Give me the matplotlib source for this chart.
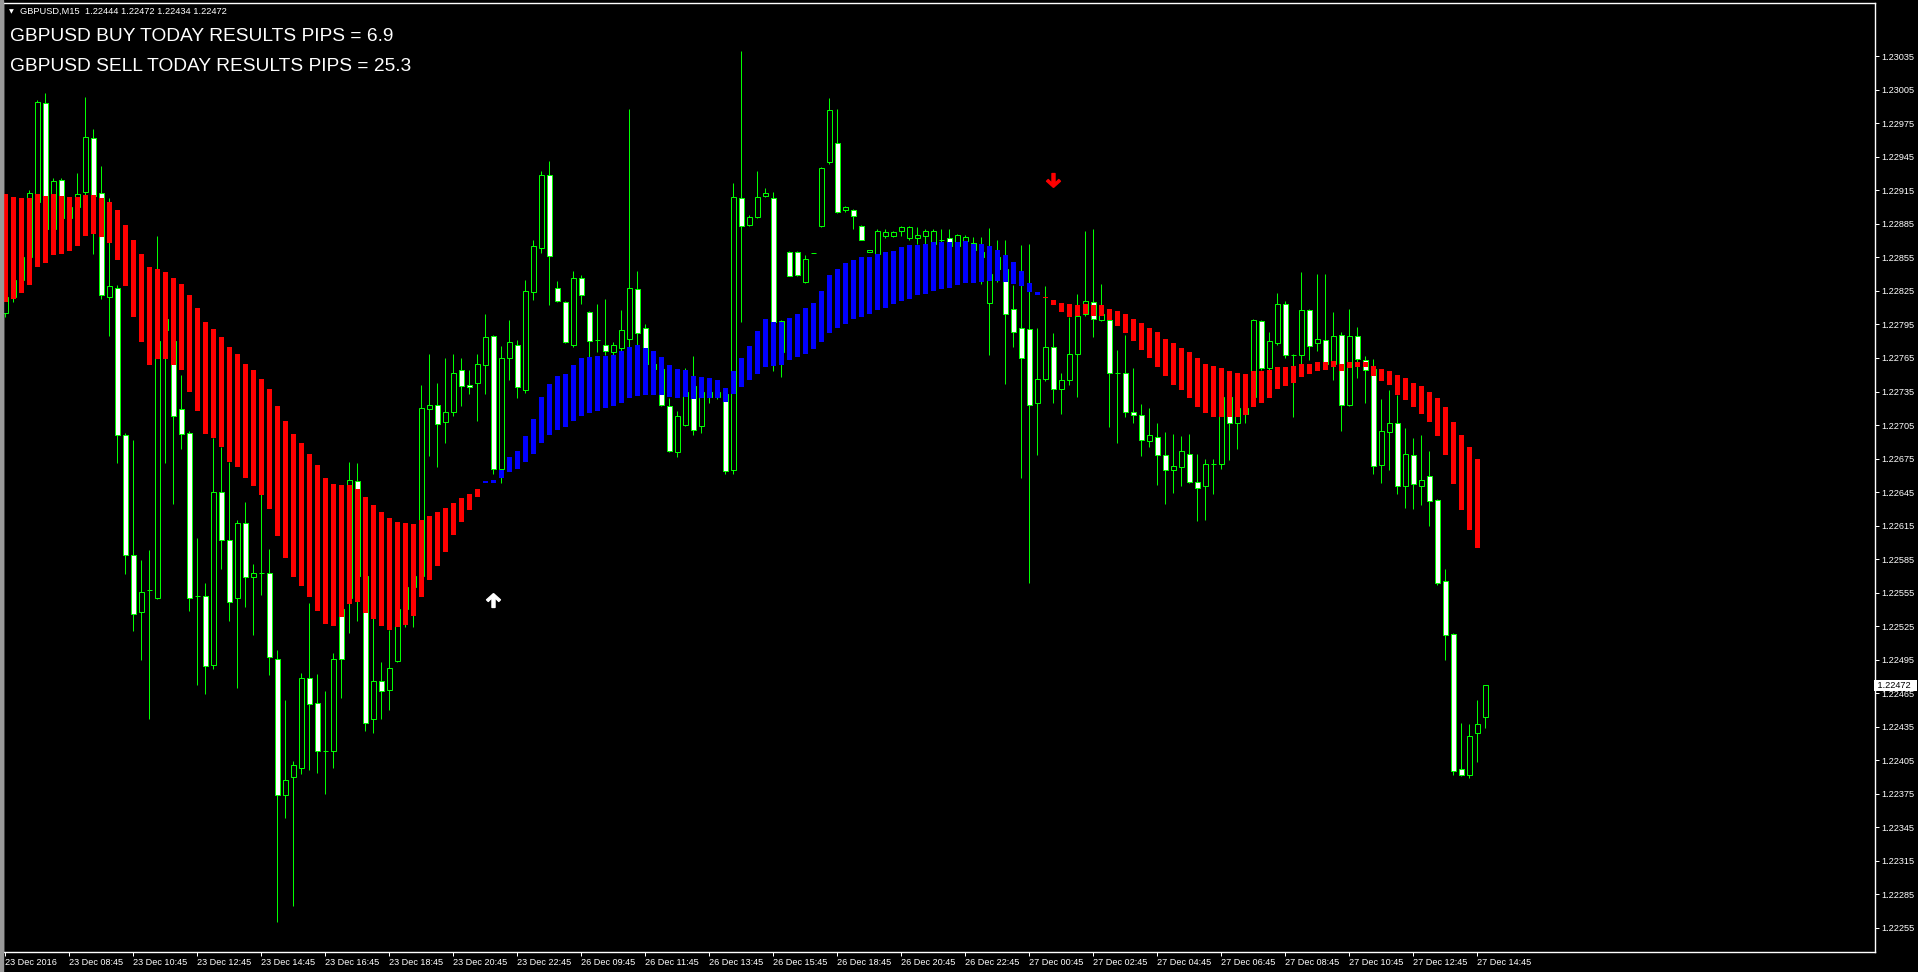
import matplotlib
matplotlib.use("Agg")
import matplotlib.pyplot as plt
import matplotlib.transforms as mtransforms
from matplotlib.path import Path
from matplotlib.patches import Rectangle
import numpy as np

# GBPUSD M15 bars, 23 Dec 2016 06:45 -> 27 Dec 2016 15:00
opens = [1.22805, 1.22820, 1.22835, 1.22855, 1.22905, 1.22993, 1.22880, 1.22924, 1.22890, 1.22900,
         1.22914, 1.22962, 1.22913, 1.22820, 1.22828, 1.22696, 1.22589, 1.22538, 1.22557, 1.22550,
         1.22800, 1.22780, 1.22719, 1.22698, 1.22552, 1.22552, 1.22490, 1.22645, 1.22602, 1.22550,
         1.22617, 1.22569, 1.22573, 1.22573, 1.22496, 1.22374, 1.22390, 1.22398, 1.22479, 1.22456,
         1.22413, 1.22413, 1.22540, 1.22550, 1.22655, 1.22570, 1.22442, 1.22476, 1.22468, 1.22494,
         1.22540, 1.22560, 1.22570, 1.22719, 1.22723, 1.22708, 1.22717, 1.22754, 1.22741, 1.22743,
         1.22759, 1.22785, 1.22666, 1.22765, 1.22777, 1.22736, 1.22824, 1.22863, 1.22929, 1.22828,
         1.22815, 1.22777, 1.22837, 1.22806, 1.22781, 1.22777, 1.22770, 1.22774, 1.22782, 1.22827,
         1.22792, 1.22760, 1.22755, 1.22722, 1.22681, 1.22705, 1.22740, 1.22704, 1.22735, 1.22730,
         1.22733, 1.22665, 1.22908, 1.22884, 1.22891, 1.22910, 1.22908, 1.22770, 1.22860, 1.22860,
         1.22833, 1.22859, 1.22883, 1.22940, 1.22957, 1.22897, 1.22897, 1.22883, 1.22860, 1.22858,
         1.22874, 1.22874, 1.22879, 1.22872, 1.22872, 1.22874, 1.22867, 1.22871, 1.22872, 1.22865,
         1.22870, 1.22868, 1.22860, 1.22814, 1.22855, 1.22845, 1.22809, 1.22792, 1.22791, 1.22725,
         1.22746, 1.22775, 1.22737, 1.22745, 1.22769, 1.22804, 1.22815, 1.22799, 1.22799, 1.22752,
         1.22752, 1.22717, 1.22714, 1.22691, 1.22694, 1.22678, 1.22665, 1.22667, 1.22679, 1.22654,
         1.22650, 1.22670, 1.22670, 1.22730, 1.22707, 1.22720, 1.22730, 1.22798, 1.22756, 1.22778,
         1.22813, 1.22768, 1.22768, 1.22808, 1.22778, 1.22781, 1.22760, 1.22786, 1.22723, 1.22785,
         1.22763, 1.22755, 1.22669, 1.22699, 1.22707, 1.22650, 1.22678, 1.22650, 1.22659, 1.22638,
         1.22565, 1.22518, 1.22397, 1.22392, 1.22429, 1.22444]

highs = [1.22830, 1.22840, 1.22860, 1.22915, 1.22996, 1.23002, 1.22926, 1.22926, 1.22905, 1.22931,
         1.22999, 1.22970, 1.22937, 1.22908, 1.22830, 1.22698, 1.22692, 1.22584, 1.22593, 1.22874,
         1.22820, 1.22790, 1.22750, 1.22700, 1.22604, 1.22564, 1.22693, 1.22685, 1.22672, 1.22620,
         1.22636, 1.22581, 1.22650, 1.22594, 1.22504, 1.22459, 1.22404, 1.22483, 1.22546, 1.22482,
         1.22467, 1.22501, 1.22570, 1.22672, 1.22671, 1.22610, 1.22540, 1.22493, 1.22522, 1.22550,
         1.22580, 1.22580, 1.22741, 1.22769, 1.22743, 1.22765, 1.22769, 1.22765, 1.22754, 1.22769,
         1.22804, 1.22786, 1.22776, 1.22799, 1.22781, 1.22835, 1.22871, 1.22932, 1.22941, 1.22834,
         1.22816, 1.22843, 1.22839, 1.22807, 1.22813, 1.22818, 1.22779, 1.22808, 1.22988, 1.22843,
         1.22795, 1.22765, 1.22760, 1.22729, 1.22718, 1.22756, 1.22767, 1.22740, 1.22745, 1.22740,
         1.22735, 1.22922, 1.23040, 1.22893, 1.22932, 1.22917, 1.22914, 1.22799, 1.22861, 1.22861,
         1.22857, 1.22859, 1.22936, 1.22998, 1.22988, 1.22901, 1.22898, 1.22884, 1.22862, 1.22880,
         1.22880, 1.22879, 1.22883, 1.22883, 1.22882, 1.22880, 1.22880, 1.22880, 1.22880, 1.22876,
         1.22875, 1.22873, 1.22873, 1.22881, 1.22871, 1.22871, 1.22830, 1.22866, 1.22867, 1.22792,
         1.22829, 1.22787, 1.22752, 1.22802, 1.22822, 1.22879, 1.22880, 1.22831, 1.22803, 1.22772,
         1.22786, 1.22756, 1.22724, 1.22720, 1.22707, 1.22699, 1.22697, 1.22695, 1.22697, 1.22679,
         1.22675, 1.22675, 1.22740, 1.22740, 1.22730, 1.22730, 1.22800, 1.22799, 1.22788, 1.22823,
         1.22816, 1.22769, 1.22842, 1.22809, 1.22840, 1.22840, 1.22806, 1.22788, 1.22809, 1.22793,
         1.22767, 1.22764, 1.22728, 1.22736, 1.22732, 1.22702, 1.22693, 1.22696, 1.22682, 1.22639,
         1.22576, 1.22519, 1.22438, 1.22437, 1.22459, 1.22472]

lows = [1.22802, 1.22815, 1.22830, 1.22850, 1.22895, 1.22870, 1.22875, 1.22885, 1.22880, 1.22890,
        1.22905, 1.22858, 1.22818, 1.22785, 1.22671, 1.22572, 1.22521, 1.22495, 1.22442, 1.22549,
        1.22671, 1.22634, 1.22684, 1.22539, 1.22472, 1.22464, 1.22487, 1.22576, 1.22530, 1.22470,
        1.22542, 1.22517, 1.22553, 1.22481, 1.22260, 1.22353, 1.22275, 1.22393, 1.22396, 1.22394,
        1.22375, 1.22398, 1.22461, 1.22519, 1.22530, 1.22431, 1.22429, 1.22442, 1.22450, 1.22493,
        1.22524, 1.22524, 1.22565, 1.22677, 1.22667, 1.22689, 1.22713, 1.22722, 1.22733, 1.22709,
        1.22733, 1.22661, 1.22653, 1.22745, 1.22729, 1.22734, 1.22817, 1.22859, 1.22812, 1.22815,
        1.22778, 1.22775, 1.22813, 1.22766, 1.22770, 1.22768, 1.22765, 1.22771, 1.22775, 1.22777,
        1.22750, 1.22745, 1.22722, 1.22681, 1.22676, 1.22704, 1.22696, 1.22698, 1.22725, 1.22728,
        1.22661, 1.22661, 1.22797, 1.22883, 1.22890, 1.22909, 1.22753, 1.22748, 1.22838, 1.22838,
        1.22832, 1.22859, 1.22882, 1.22939, 1.22895, 1.22896, 1.22880, 1.22871, 1.22860, 1.22855,
        1.22872, 1.22873, 1.22874, 1.22871, 1.22867, 1.22867, 1.22865, 1.22869, 1.22860, 1.22863,
        1.22868, 1.22855, 1.22831, 1.22768, 1.22833, 1.22742, 1.22775, 1.22658, 1.22564, 1.22678,
        1.22744, 1.22725, 1.22715, 1.22741, 1.22730, 1.22803, 1.22784, 1.22798, 1.22703, 1.22689,
        1.22712, 1.22707, 1.22677, 1.22685, 1.22651, 1.22634, 1.22644, 1.22650, 1.22653, 1.22619,
        1.22620, 1.22643, 1.22666, 1.22674, 1.22684, 1.22707, 1.22725, 1.22754, 1.22754, 1.22777,
        1.22765, 1.22712, 1.22760, 1.22763, 1.22771, 1.22755, 1.22745, 1.22700, 1.22722, 1.22747,
        1.22725, 1.22661, 1.22653, 1.22665, 1.22643, 1.22631, 1.22630, 1.22633, 1.22615, 1.22562,
        1.22495, 1.22392, 1.22391, 1.22389, 1.22403, 1.22434]

closes = [1.22820, 1.22835, 1.22855, 1.22913, 1.22994, 1.22880, 1.22923, 1.22890, 1.22900, 1.22912,
          1.22963, 1.22910, 1.22821, 1.22829, 1.22696, 1.22589, 1.22536, 1.22556, 1.22557, 1.22780,
          1.22790, 1.22713, 1.22697, 1.22550, 1.22552, 1.22489, 1.22645, 1.22602, 1.22547, 1.22617,
          1.22569, 1.22573, 1.22573, 1.22497, 1.22374, 1.22387, 1.22401, 1.22479, 1.22455, 1.22413,
          1.22413, 1.22496, 1.22496, 1.22656, 1.22570, 1.22438, 1.22476, 1.22467, 1.22488, 1.22540,
          1.22560, 1.22570, 1.22720, 1.22723, 1.22706, 1.22717, 1.22752, 1.22740, 1.22739, 1.22760,
          1.22784, 1.22666, 1.22765, 1.22779, 1.22739, 1.22825, 1.22865, 1.22929, 1.22856, 1.22816,
          1.22779, 1.22837, 1.22821, 1.22780, 1.22781, 1.22771, 1.22777, 1.22790, 1.22828, 1.22787,
          1.22760, 1.22755, 1.22723, 1.22682, 1.22713, 1.22735, 1.22701, 1.22735, 1.22730, 1.22735,
          1.22664, 1.22909, 1.22883, 1.22891, 1.22909, 1.22913, 1.22797, 1.22798, 1.22838, 1.22839,
          1.22854, 1.22859, 1.22935, 1.22987, 1.22896, 1.22900, 1.22892, 1.22871, 1.22862, 1.22879,
          1.22878, 1.22878, 1.22882, 1.22882, 1.22875, 1.22879, 1.22879, 1.22871, 1.22865, 1.22875,
          1.22873, 1.22862, 1.22855, 1.22840, 1.22845, 1.22804, 1.22788, 1.22765, 1.22723, 1.22746,
          1.22775, 1.22737, 1.22745, 1.22769, 1.22803, 1.22816, 1.22800, 1.22804, 1.22752, 1.22752,
          1.22717, 1.22714, 1.22692, 1.22696, 1.22678, 1.22665, 1.22668, 1.22682, 1.22654, 1.22649,
          1.22670, 1.22670, 1.22730, 1.22707, 1.22720, 1.22715, 1.22799, 1.22756, 1.22780, 1.22813,
          1.22768, 1.22768, 1.22808, 1.22776, 1.22782, 1.22760, 1.22785, 1.22723, 1.22785, 1.22764,
          1.22754, 1.22668, 1.22700, 1.22707, 1.22650, 1.22679, 1.22652, 1.22656, 1.22637, 1.22564,
          1.22517, 1.22395, 1.22392, 1.22427, 1.22437, 1.22472]

# smoothed trend band (upper / lower edge per bar)
band_top = [1.22912, 1.22909, 1.22908, 1.22908, 1.22912, 1.22910, 1.22912, 1.22910, 1.22909, 1.22909,
            1.22911, 1.22911, 1.22908, 1.22905, 1.22897, 1.22884, 1.22871, 1.22858, 1.22846, 1.22845,
            1.22842, 1.22837, 1.22831, 1.22821, 1.22810, 1.22797, 1.22791, 1.22784, 1.22775, 1.22769,
            1.22760, 1.22754, 1.22746, 1.22737, 1.22722, 1.22709, 1.22697, 1.22689, 1.22679, 1.22669,
            1.22658, 1.22652, 1.22651, 1.22651, 1.22648, 1.22641, 1.22633, 1.22627, 1.22622, 1.22618,
            1.22617, 1.22616, 1.22620, 1.22624, 1.22627, 1.22631, 1.22635, 1.22640, 1.22643, 1.22648,
            1.22655, 1.22656, 1.22665, 1.22676, 1.22682, 1.22695, 1.22710, 1.22730, 1.22742, 1.22749,
            1.22751, 1.22759, 1.22765, 1.22766, 1.22767, 1.22767, 1.22768, 1.22771, 1.22775, 1.22777,
            1.22774, 1.22771, 1.22766, 1.22759, 1.22755, 1.22754, 1.22749, 1.22748, 1.22747, 1.22745,
            1.22738, 1.22753, 1.22765, 1.22776, 1.22789, 1.22800, 1.22797, 1.22797, 1.22801, 1.22804,
            1.22810, 1.22814, 1.22825, 1.22839, 1.22845, 1.22850, 1.22853, 1.22855, 1.22855, 1.22858,
            1.22860, 1.22861, 1.22864, 1.22866, 1.22866, 1.22867, 1.22869, 1.22869, 1.22869, 1.22869,
            1.22870, 1.22867, 1.22867, 1.22865, 1.22862, 1.22857, 1.22851, 1.22843, 1.22832, 1.22824,
            1.22820, 1.22817, 1.22814, 1.22813, 1.22812, 1.22813, 1.22812, 1.22812, 1.22809, 1.22807,
            1.22804, 1.22800, 1.22796, 1.22792, 1.22788, 1.22782, 1.22778, 1.22774, 1.22770, 1.22765,
            1.22760, 1.22758, 1.22756, 1.22753, 1.22752, 1.22751, 1.22753, 1.22753, 1.22754, 1.22757,
            1.22757, 1.22758, 1.22760, 1.22760, 1.22761, 1.22761, 1.22762, 1.22760, 1.22761, 1.22761,
            1.22761, 1.22758, 1.22755, 1.22753, 1.22750, 1.22747, 1.22743, 1.22740, 1.22735, 1.22729,
            1.22721, 1.22708, 1.22696, 1.22685, 1.22675]

band_bottom = [1.22815, 1.22818, 1.22823, 1.22830, 1.22846, 1.22850, 1.22857, 1.22858, 1.22861, 1.22865,
               1.22874, 1.22876, 1.22873, 1.22868, 1.22853, 1.22829, 1.22802, 1.22779, 1.22759, 1.22764,
               1.22764, 1.22759, 1.22754, 1.22735, 1.22718, 1.22697, 1.22693, 1.22685, 1.22672, 1.22667,
               1.22658, 1.22650, 1.22642, 1.22630, 1.22606, 1.22586, 1.22569, 1.22561, 1.22551, 1.22539,
               1.22527, 1.22525, 1.22533, 1.22545, 1.22547, 1.22537, 1.22531, 1.22525, 1.22522, 1.22524,
               1.22526, 1.22534, 1.22551, 1.22566, 1.22579, 1.22591, 1.22607, 1.22618, 1.22629, 1.22641,
               1.22653, 1.22653, 1.22658, 1.22663, 1.22666, 1.22672, 1.22679, 1.22689, 1.22696, 1.22701,
               1.22703, 1.22709, 1.22713, 1.22716, 1.22718, 1.22720, 1.22722, 1.22725, 1.22729, 1.22731,
               1.22732, 1.22732, 1.22732, 1.22730, 1.22729, 1.22730, 1.22728, 1.22729, 1.22729, 1.22729,
               1.22726, 1.22733, 1.22739, 1.22745, 1.22751, 1.22757, 1.22758, 1.22759, 1.22763, 1.22766,
               1.22769, 1.22773, 1.22779, 1.22787, 1.22792, 1.22795, 1.22800, 1.22802, 1.22804, 1.22808,
               1.22810, 1.22813, 1.22816, 1.22818, 1.22821, 1.22822, 1.22825, 1.22827, 1.22828, 1.22830,
               1.22832, 1.22832, 1.22833, 1.22834, 1.22834, 1.22833, 1.22831, 1.22829, 1.22824, 1.22821,
               1.22819, 1.22812, 1.22806, 1.22802, 1.22803, 1.22804, 1.22803, 1.22803, 1.22799, 1.22794,
               1.22787, 1.22780, 1.22772, 1.22765, 1.22757, 1.22749, 1.22741, 1.22736, 1.22729, 1.22721,
               1.22716, 1.22712, 1.22712, 1.22712, 1.22712, 1.22714, 1.22721, 1.22725, 1.22729, 1.22737,
               1.22740, 1.22743, 1.22748, 1.22751, 1.22753, 1.22754, 1.22757, 1.22753, 1.22756, 1.22757,
               1.22757, 1.22749, 1.22744, 1.22741, 1.22732, 1.22727, 1.22721, 1.22715, 1.22708, 1.22695,
               1.22678, 1.22652, 1.22629, 1.22611, 1.22595]

band_trend = ["down"] * 60 + ["up"] * 70 + ["down"] * 55

# signal arrows (bar index, price)
buy_arrow = (61, 1.22548)
sell_arrow = (131, 1.22924)

x_labels = ["23 Dec 2016", "23 Dec 08:45", "23 Dec 10:45", "23 Dec 12:45", "23 Dec 14:45",
            "23 Dec 16:45", "23 Dec 18:45", "23 Dec 20:45", "23 Dec 22:45", "26 Dec 09:45",
            "26 Dec 11:45", "26 Dec 13:45", "26 Dec 15:45", "26 Dec 18:45", "26 Dec 20:45",
            "26 Dec 22:45", "27 Dec 00:45", "27 Dec 02:45", "27 Dec 04:45", "27 Dec 06:45",
            "27 Dec 08:45", "27 Dec 10:45", "27 Dec 12:45", "27 Dec 14:45"]

last_price = 1.22472
header = "GBPUSD,M15  1.22444 1.22472 1.22434 1.22472"
buy_text = "GBPUSD BUY TODAY RESULTS PIPS = 6.9"
sell_text = "GBPUSD SELL TODAY RESULTS PIPS = 25.3"

GREEN = "#00ff00"
W, H = 1918, 972
PX = 72 / 100  # one pixel in points

o = np.array(opens)
h = np.array(highs)
l = np.array(lows)
c = np.array(closes)
x = np.arange(len(o))

fig = plt.figure(figsize=(W / 100, H / 100), dpi=100, facecolor="black")
ax = fig.add_axes([3 / W, 1 - 952 / H, 1872 / W, 949 / H])
ax.set_facecolor("black")

# candles
ax.vlines(x, l, h, color=GREEN, linewidth=PX, zorder=2)
body_face = np.where(c < o, "white", "black")
ax.bar(x, np.abs(c - o), bottom=np.minimum(o, c), width=0.55, color=body_face,
       edgecolor=GREEN, linewidth=PX, zorder=3)

# trend band drawn over the candles
bx = np.arange(len(band_top))
bt = np.array(band_top)
bb = np.array(band_bottom)
band_col = ["#0000ff" if t == "up" else "#ff0000" for t in band_trend]
ax.bar(bx, bt - bb, bottom=bb, width=0.62, color=band_col, linewidth=0, zorder=4)

# arrows
up_arrow = Path([(0, 0.5), (0.5, 0.05), (0.38, -0.07), (0.11, 0.2), (0.11, -0.5),
                 (-0.11, -0.5), (-0.11, 0.2), (-0.38, -0.07), (-0.5, 0.05), (0, 0.5)])
down_arrow = Path(up_arrow.vertices * np.array([1, -1]))
ax.plot(*buy_arrow, marker=up_arrow, markersize=10, color="white", zorder=6)
ax.plot(*sell_arrow, marker=down_arrow, markersize=10, color="#ff0000", zorder=6)

ax.set_xlim(-0.3125, 233.69)
ax.set_ylim(1.222334, 1.230827)

for s in ax.spines.values():
    s.set_color("white")
    s.set_linewidth(1)

ax.yaxis.tick_right()
ax.set_yticks(np.round(1.22255 + 0.0003 * np.arange(27), 5))
ax.yaxis.set_major_formatter(plt.FormatStrFormatter("%.5f"))
ax.set_xticks(np.arange(len(x_labels)) * 8)
ax.set_xticklabels(x_labels)
for lab in ax.get_xticklabels():
    lab.set_horizontalalignment("left")
ax.tick_params(axis="both", colors="white", length=4 * PX, width=PX, labelsize=6.6, pad=2)
ax.tick_params(axis="x", pad=1.5)
for lab in ax.get_xticklabels() + ax.get_yticklabels():
    lab.set_family("Liberation Sans")

trans = mtransforms.blended_transform_factory(ax.transAxes, ax.transData)
ax.text(1.0, last_price, " 1.22472  ", transform=trans, ha="left", va="center",
        fontsize=6.6, family="Liberation Sans", color="black", zorder=10, clip_on=False,
        bbox=dict(boxstyle="square,pad=0.15", fc="white", ec="none"))

# window border on the far left
fig.patches.append(Rectangle((0, 0), 3 / W, 1, transform=fig.transFigure,
                             color="#9a9a9a", zorder=5))

fig.text(9 / W, 1 - 13 / H, "\u25bc", color="white", fontsize=4.5, family="DejaVu Sans",
         va="baseline", ha="left")
fig.text(20 / W, 1 - 13.5 / H, header, color="white", fontsize=6.7,
         family="Liberation Sans", va="baseline", ha="left")
fig.text(10 / W, 1 - 40.7 / H, buy_text, color="white", fontsize=13.75,
         family="Liberation Sans", va="baseline", ha="left")
fig.text(10 / W, 1 - 70.7 / H, sell_text, color="white", fontsize=13.75,
         family="Liberation Sans", va="baseline", ha="left")

fig.savefig("out.png", dpi=100, facecolor="black")
